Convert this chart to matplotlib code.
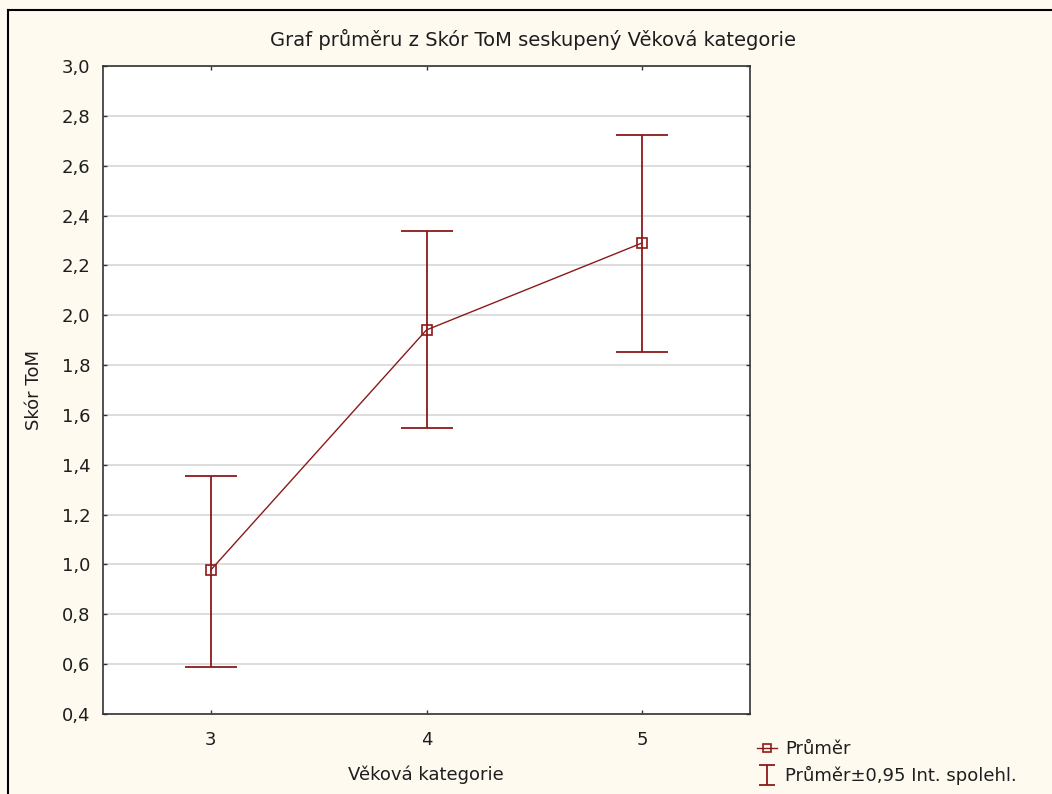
import matplotlib
matplotlib.use("Agg")
import matplotlib.pyplot as plt
from matplotlib.lines import Line2D
from matplotlib.path import Path
import numpy as np

categories = [3, 4, 5]
means = [0.978, 1.941, 2.290]
upper = [1.355, 2.338, 2.723]
lower = [0.589, 1.548, 1.853]
yticks = [0.4, 0.6, 0.8, 1.0, 1.2, 1.4, 1.6, 1.8, 2.0, 2.2, 2.4, 2.6, 2.8, 3.0]
xticks = [3, 4, 5]

title = "Graf průměru z Skór ToM seskupený Věková kategorie"
xlabel = "Věková kategorie"
ylabel = "Skór ToM"
legend_labels = ["Průměr", "Průměr±0,95 Int. spolehl."]

red = "#8B1A1A"
bg = "#FFFAF0"
txt = "#1E1E1E"
plt.rcParams['font.family'] = ['DejaVu Sans']
fs = 13

fig = plt.figure(figsize=(10.52, 7.94), dpi=100, facecolor=bg)
ax = fig.add_axes([103/1052, 1-714/794, (750-103)/1052, (714-66)/794])
ax.set_facecolor("white")

m = np.array(means)
yerr = np.vstack([m - np.array(lower), np.array(upper) - m])
ax.errorbar(categories, means, yerr=yerr, fmt='none', ecolor=red,
            elinewidth=1.3, capsize=19, capthick=1.3, zorder=3)
ax.plot(categories, means, color=red, lw=1.0, marker='s', ms=7,
        mfc='none', mec=red, mew=1.2, zorder=4)

ax.set_xlim(2.5, 5.5)
ax.set_ylim(0.4, 3.0)
ax.set_yticks(yticks)
ax.set_yticklabels([f"{v:.1f}".replace('.', ',') for v in yticks], fontsize=fs, color=txt)
ax.set_xticks(xticks)
ax.set_xticklabels([str(v) for v in xticks], fontsize=fs, color=txt)
ax.tick_params(direction='in', length=3, width=1, top=True, right=True, color="#333333")
ax.tick_params(axis='y', pad=9)
ax.tick_params(axis='x', pad=12)
ax.grid(axis='y', color="#DDDDDD", lw=1.4, zorder=0)
ax.set_axisbelow(True)
for s in ax.spines.values():
    s.set_color("#333333")
    s.set_linewidth(1.2)

fig.text(533/1052, 1-40/794, title, ha='center', va='center', fontsize=14, color=txt)
fig.text(426/1052, 1-775/794, xlabel, ha='center', va='center', fontsize=fs, color=txt)
fig.text(34/1052, 1-390/794, ylabel, ha='center', va='center', rotation=90, fontsize=fs, color=txt)

# frame border (top and left)
fig.add_artist(Line2D([8/1052, 1], [1-10/794, 1-10/794], color='black', lw=1.5, transform=fig.transFigure))
fig.add_artist(Line2D([8/1052, 8/1052], [0, 1-10/794], color='black', lw=1.5, transform=fig.transFigure))

ibeam = Path([(-0.75, 1), (0.75, 1), (0, 1), (0, -1), (-0.75, -1), (0.75, -1)],
             [Path.MOVETO, Path.LINETO, Path.MOVETO, Path.LINETO, Path.MOVETO, Path.LINETO])
h1 = Line2D([], [], color=red, lw=1.0, marker='s', ms=6, mfc='none', mec=red, mew=1.2)
h2 = Line2D([], [], color=red, lw=0, marker=ibeam, ms=15, mec=red, mew=1.3)
fig.legend([h1, h2], legend_labels, loc='upper left', bbox_to_anchor=(757/1052, 1-740/794),
           frameon=False, fontsize=fs, handlelength=1.1, handletextpad=0.45,
           labelspacing=0.45, borderaxespad=0, borderpad=0, labelcolor=txt)

fig.savefig("out.png", dpi=100, facecolor=bg)
